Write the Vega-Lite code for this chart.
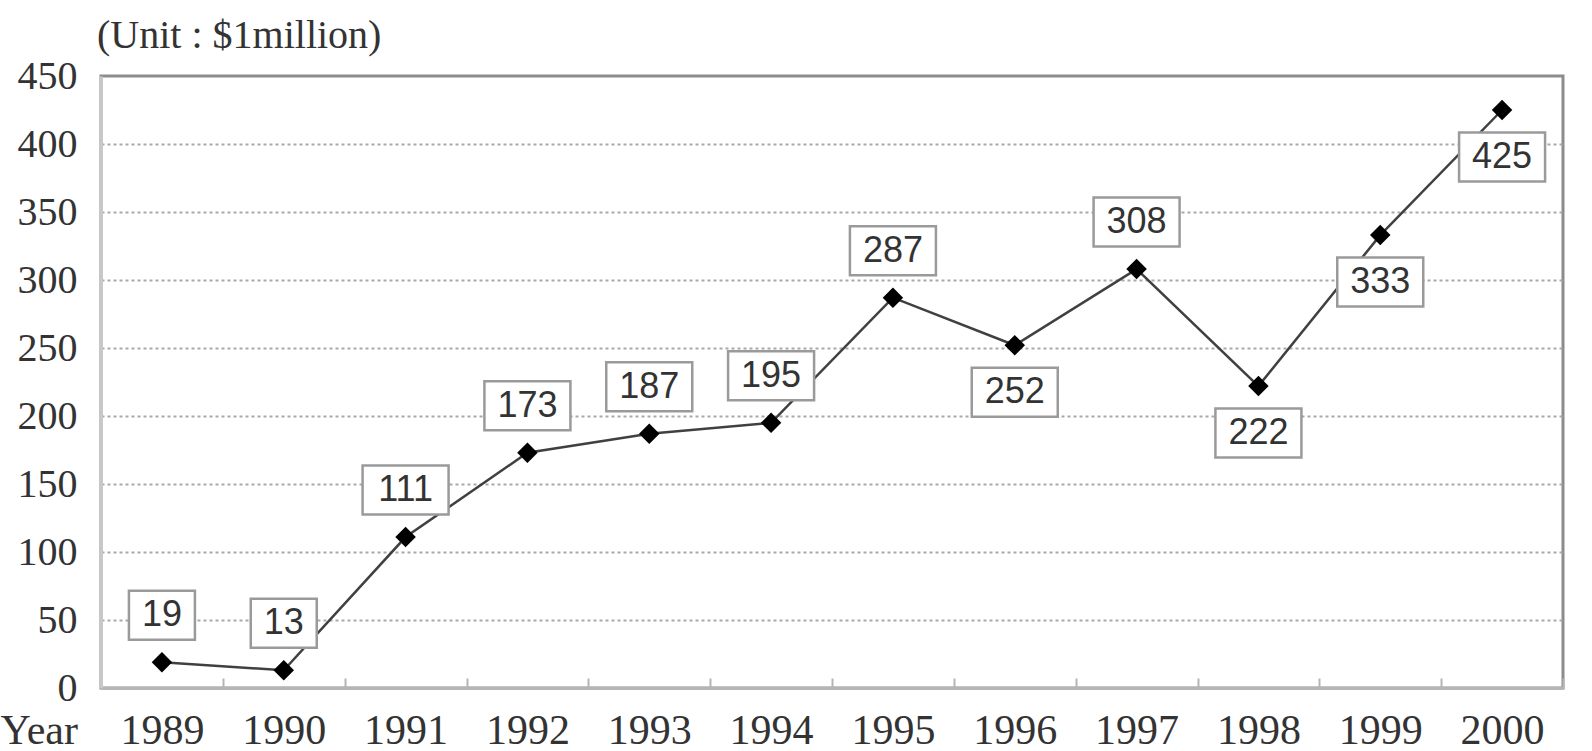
{
  "$schema": "https://vega.github.io/schema/vega-lite/v6.json",
  "width": 1462,
  "height": 612,
  "autosize": {"type": "none"},
  "padding": {"left": 101, "top": 76, "right": 29, "bottom": 63},
  "background": "white",
  "title": {
    "text": "(Unit : $1million)",
    "anchor": "start",
    "frame": "group",
    "font": "Liberation Serif",
    "fontSize": 40,
    "fontWeight": "normal",
    "color": "#333333",
    "offset": 0,
    "dx": -4
  },
  "config": {"view": {"stroke": "#8c8c8c", "strokeWidth": 3}},
  "data": {
    "values": [
      {"year": 1989, "value": 19},
      {"year": 1990, "value": 13},
      {"year": 1991, "value": 111},
      {"year": 1992, "value": 173},
      {"year": 1993, "value": 187},
      {"year": 1994, "value": 195},
      {"year": 1995, "value": 287},
      {"year": 1996, "value": 252},
      {"year": 1997, "value": 308},
      {"year": 1998, "value": 222},
      {"year": 1999, "value": 333},
      {"year": 2000, "value": 425}
    ]
  },
  "encoding": {
    "x": {
      "field": "year",
      "type": "ordinal",
      "scale": {"type": "band", "paddingInner": 0, "paddingOuter": 0},
      "axis": {
        "title": "Year",
        "titleX": -101,
        "titleY": 22,
        "titleAlign": "left",
        "titleBaseline": "top",
        "titleFont": "Liberation Serif",
        "titleFontSize": 42,
        "titleFontWeight": "normal",
        "titleColor": "#333333",
        "labelFont": "Liberation Serif",
        "labelFontSize": 42,
        "labelColor": "#333333",
        "labelAngle": 0,
        "labelPadding": 32,
        "tickBand": "extent",
        "tickSize": -10,
        "tickColor": "#b5b5b5",
        "tickWidth": 2,
        "domainColor": "#b5b5b5",
        "domainWidth": 3,
        "grid": false
      }
    },
    "y": {
      "field": "value",
      "type": "quantitative",
      "scale": {"domain": [0, 450], "nice": false},
      "axis": {
        "title": null,
        "values": [0, 50, 100, 150, 200, 250, 300, 350, 400, 450],
        "ticks": false,
        "labelPadding": 24,
        "labelFont": "Liberation Serif",
        "labelFontSize": 40,
        "labelColor": "#333333",
        "domainColor": "#c8c8c8",
        "domainWidth": 3,
        "grid": true,
        "gridColor": "#a8a8a8",
        "gridDash": [3, 3],
        "gridWidth": 2,
        "gridOpacity": {"condition": {"test": "datum.value == 0 || datum.value == 450", "value": 0}, "value": 1}
      }
    }
  },
  "layer": [
    {"mark": {"type": "line", "color": "#404040", "strokeWidth": 2.5}},
    {
      "transform": [{"filter": "indexof([1996, 1998, 1999, 2000], datum.year) < 0"}],
      "mark": {"type": "point", "filled": true, "fill": "white", "stroke": "#9a9a9a", "strokeWidth": 2.5, "size": 10000, "opacity": 1},
      "encoding": {
        "shape": {
          "condition": {"test": "datum.value < 100", "value": "M-0.66,-1.43H0.66V-0.45H-0.66Z"},
          "value": "M-0.86,-1.43H0.86V-0.45H-0.86Z"
        }
      }
    },
    {
      "transform": [{"filter": "indexof([1996, 1998, 1999, 2000], datum.year) >= 0"}],
      "mark": {"type": "point", "filled": true, "fill": "white", "stroke": "#9a9a9a", "strokeWidth": 2.5, "size": 10000, "opacity": 1},
      "encoding": {
        "shape": {"value": "M-0.86,0.45H0.86V1.43H-0.86Z"}
      }
    },
    {
      "transform": [{"filter": "indexof([1996, 1998, 1999, 2000], datum.year) < 0"}],
      "mark": {"type": "text", "font": "Liberation Sans", "fontSize": 36, "color": "#333333", "baseline": "middle", "align": "center", "dy": -47},
      "encoding": {"text": {"field": "value", "type": "quantitative"}}
    },
    {
      "transform": [{"filter": "indexof([1996, 1998, 1999, 2000], datum.year) >= 0"}],
      "mark": {"type": "text", "font": "Liberation Sans", "fontSize": 36, "color": "#333333", "baseline": "middle", "align": "center", "dy": 47},
      "encoding": {"text": {"field": "value", "type": "quantitative"}}
    },
    {"mark": {"type": "point", "shape": "diamond", "filled": true, "color": "black", "size": 420, "opacity": 1}}
  ]
}
